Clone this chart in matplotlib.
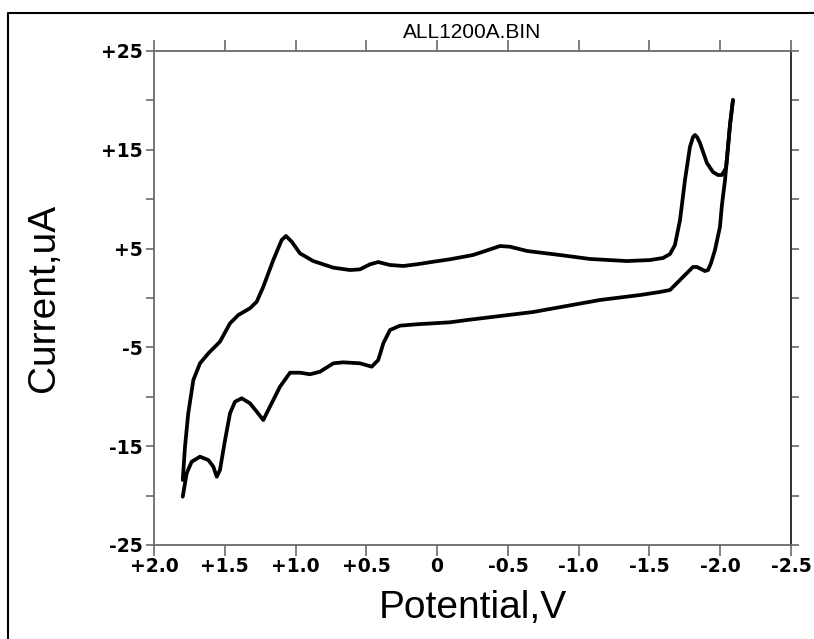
import matplotlib
matplotlib.use("Agg")
import matplotlib.pyplot as plt
from matplotlib.lines import Line2D

# Cyclic voltammogram: potential (V) vs current (uA)
# Sweep toward negative potentials
fwd_potential = [1.797, 1.781, 1.758, 1.722, 1.675, 1.616, 1.534, 1.463, 1.404, 1.322,
                 1.274, 1.228, 1.157, 1.098, 1.068, 1.027, 0.969, 0.875, 0.733, 0.615,
                 0.545, 0.474, 0.416, 0.333, 0.239, 0.144, 0.027, -0.091, -0.253, -0.326,
                 -0.444, -0.515, -0.635, -0.868, -1.080, -1.341, -1.504, -1.596, -1.645, -1.680,
                 -1.716, -1.751, -1.786, -1.808, -1.822, -1.836, -1.857, -1.906, -1.949, -1.984,
                 -2.012, -2.041, -2.055, -2.069, -2.090]
fwd_current = [-18.42, -15.05, -11.67, -8.30, -6.61, -5.60, -4.42, -2.56, -1.72, -1.04,
               -0.37, 1.14, 3.85, 5.87, 6.28, 5.70, 4.52, 3.74, 3.07, 2.83,
               2.90, 3.41, 3.64, 3.34, 3.24, 3.41, 3.67, 3.92, 4.35, 4.69,
               5.26, 5.19, 4.76, 4.35, 3.95, 3.74, 3.84, 4.05, 4.45, 5.36,
               7.89, 11.94, 15.28, 16.30, 16.50, 16.30, 15.69, 13.66, 12.75, 12.45,
               12.45, 13.16, 15.28, 17.51, 20.04]

# Return sweep toward positive potentials
rev_potential = [-2.090, -2.069, -2.055, -2.034, -2.012, -1.998, -1.963, -1.935, -1.914, -1.892,
                 -1.863, -1.836, -1.808, -1.786, -1.737, -1.688, -1.645, -1.574, -1.433, -1.151,
                 -0.677, -0.211, -0.091, 0.144, 0.262, 0.333, 0.380, 0.416, 0.462, 0.545,
                 0.663, 0.733, 0.827, 0.898, 0.969, 1.039, 1.110, 1.181, 1.228, 1.274,
                 1.322, 1.380, 1.428, 1.463, 1.498, 1.534, 1.557, 1.581, 1.616, 1.675,
                 1.734, 1.769, 1.797]
rev_current = [20.04, 17.51, 15.28, 11.94, 9.41, 7.19, 4.86, 3.54, 2.83, 2.73,
               2.94, 3.14, 3.14, 2.83, 2.13, 1.42, 0.81, 0.61, 0.30, -0.20,
               -1.42, -2.23, -2.46, -2.66, -2.80, -3.24, -4.59, -6.28, -6.95, -6.61,
               -6.51, -6.61, -7.46, -7.72, -7.56, -7.56, -8.98, -11.00, -12.35, -11.51,
               -10.66, -10.15, -10.50, -11.67, -14.37, -17.41, -18.09, -17.07, -16.40, -16.06,
               -16.57, -17.74, -20.11]

x_ticks = [2.0, 1.5, 1.0, 0.5, 0.0, -0.5, -1.0, -1.5, -2.0, -2.5]
x_tick_labels = ["+2.0", "+1.5", "+1.0", "+0.5", "0", "-0.5", "-1.0", "-1.5", "-2.0", "-2.5"]
y_ticks = [25, 20, 15, 10, 5, 0, -5, -10, -15, -20, -25]
y_tick_labels = ["+25", "", "+15", "", "+5", "", "-5", "", "-15", "", "-25"]

W, H = 814, 639
fig = plt.figure(figsize=(W / 100, H / 100), dpi=100)
fig.patch.set_facecolor("white")

ax = fig.add_axes([154 / W, 1 - 545 / H, (791 - 154) / W, (545 - 51) / H])

line_kw = dict(color="black", lw=2.7, solid_joinstyle="round", solid_capstyle="round")
ax.plot(fwd_potential, fwd_current, **line_kw)
ax.plot(rev_potential, rev_current, **line_kw)

ax.set_xlim(2.0, -2.5)
ax.set_ylim(-25, 25)

spine_color = "#6a6a6a"
for side in ["left", "bottom", "top"]:
    ax.spines[side].set_color(spine_color)
    ax.spines[side].set_linewidth(1.3)
ax.spines["right"].set_color("#222222")
ax.spines["right"].set_linewidth(1.3)

ax.set_xticks(x_ticks)
ax.set_xticklabels(x_tick_labels)
ax.set_yticks(y_ticks)
ax.set_yticklabels(y_tick_labels)

for lab in ax.get_xticklabels() + ax.get_yticklabels():
    lab.set_fontfamily("DejaVu Sans")
    lab.set_fontweight("bold")
    lab.set_fontsize(13.5)

ax.tick_params(axis="x", which="both", direction="out", length=8, width=1.2,
               color=spine_color, top=True, bottom=True, labeltop=False, pad=1)
ax.tick_params(axis="y", which="both", direction="out", length=6, width=1.2,
               color=spine_color, left=True, right=True, labelright=False, pad=2)

ax.set_xlabel("Potential,V", family="Liberation Sans", fontsize=28, labelpad=10)
ax.set_ylabel("Current,uA", family="Liberation Sans", fontsize=28, labelpad=28)
ax.set_title("ALL1200A.BIN", family="Liberation Sans", fontsize=15, pad=9)

# Outer frame along the left and top edges
fig.add_artist(Line2D([8 / W, 8 / W, 1.0], [0.0, 1 - 13 / H, 1 - 13 / H],
                      transform=fig.transFigure, color="black", lw=1.5))

fig.savefig("out.png", dpi=100, facecolor="white")
